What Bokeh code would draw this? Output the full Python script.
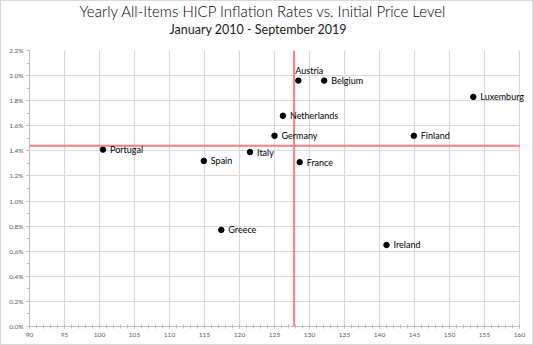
from bokeh.plotting import figure
from bokeh.layouts import column
from bokeh.models import (ColumnDataSource, Range1d, Span, Title, SingleIntervalTicker,
                          PrintfTickFormatter, BoxAnnotation)
from bokeh.core.properties import value
from bokeh.embed import file_html
from bokeh.resources import INLINE

countries = ["Austria", "Belgium", "Luxemburg", "Netherlands", "Germany", "Finland",
             "Italy", "Spain", "France", "Portugal", "Greece", "Ireland"]
price_level = [128.4, 132.1, 153.4, 126.2, 125.0, 144.9, 121.5, 114.9, 128.6, 100.5, 117.4, 141.0]
inflation = [1.96, 1.96, 1.83, 1.68, 1.52, 1.52, 1.39, 1.32, 1.31, 1.41, 0.77, 0.65]
avg_price_level = 127.8
avg_inflation = 1.44

x_min, x_max = 90, 160
y_min, y_max = 0, 2.2

title_text = "Yearly All-Items HICP Inflation Rates vs. Initial Price Level"
subtitle_text = "January 2010 - September 2019"

x_off = [-3 if c == "Austria" else 7 for c in countries]
y_off = [-5 if c == "Austria" else 0 for c in countries]
baseline = ["bottom" if c == "Austria" else "middle" for c in countries]

src = ColumnDataSource(dict(x=price_level, y=inflation, name=countries,
                            xo=x_off, yo=y_off, bl=baseline))

# frame extends 1 unit past x_max so the last label is not clipped; the extra strip is masked
p = figure(width=531, height=343, output_backend="svg", toolbar_location=None,
           x_range=Range1d(x_min, x_max + 1), y_range=Range1d(y_min, y_max),
           min_border_left=28, min_border_right=6, min_border_bottom=18, min_border_top=0)

# spacer between subtitle and plot area
p.add_layout(Title(text=" ", text_font_size="1px", standoff=9), "above")
p.add_layout(Title(text=subtitle_text, text_font="Lato", text_font_size="12.5px",
                   text_font_style="normal", align="left", offset=140, text_color="#1a1a1a",
                   standoff=0, vertical_align="top"), "above")
p.add_layout(Title(text=title_text, text_font="Lato Light", text_font_size="15px",
                   text_font_style="normal", align="left", offset=50, text_color="#000000",
                   standoff=0, vertical_align="top"), "above")

p.outline_line_color = None
p.background_fill_color = "white"

p.xaxis.ticker = SingleIntervalTicker(interval=5, num_minor_ticks=5)
p.xaxis.bounds = (x_min, x_max)
p.yaxis.ticker = SingleIntervalTicker(interval=0.2, num_minor_ticks=2)
p.yaxis.formatter = PrintfTickFormatter(format="%.1f%%")

for ax in (p.xaxis, p.yaxis):
    ax.axis_line_color = "#bfbfbf"
    ax.major_tick_line_color = "#bfbfbf"
    ax.minor_tick_line_color = "#bfbfbf"
    ax.major_label_text_font = "Lato"
    ax.major_label_text_font_size = "6.5px"
    ax.major_label_text_color = "#595959"

p.xaxis.major_tick_in = 2
p.xaxis.major_tick_out = 2
p.xaxis.minor_tick_in = 2
p.xaxis.minor_tick_out = 2
p.xaxis.major_label_standoff = 4
p.yaxis.major_tick_in = 0
p.yaxis.major_tick_out = 3
p.yaxis.minor_tick_in = 0
p.yaxis.minor_tick_out = 3
p.yaxis.major_label_standoff = 3

p.xgrid.grid_line_color = "#d9d9d9"
p.ygrid.grid_line_color = "#d9d9d9"
p.xgrid.grid_line_width = 1.2
p.ygrid.grid_line_width = 1.2

p.add_layout(Span(location=avg_inflation, dimension="width", line_color="#ff7c80", line_width=2))
# white mask over the strip right of x_max
p.add_layout(BoxAnnotation(left=x_max + 0.09, fill_color="white", fill_alpha=1.0,
                           line_color=None, level="annotation"))
p.add_layout(Span(location=avg_price_level, dimension="height", line_color="#ff7c80", line_width=2))

p.scatter("x", "y", source=src, size=5.5, color="black")
p.text("x", "y", text="name", source=src, x_offset="xo", y_offset="yo",
       text_baseline="bl", text_align="left", text_font=value("Lato"),
       text_font_size="9px", text_color="#000000", level="overlay")

layout = column(p, styles={"border": "1px solid #d9d9d9"})
open("out.html", "w").write(file_html(layout, INLINE))
